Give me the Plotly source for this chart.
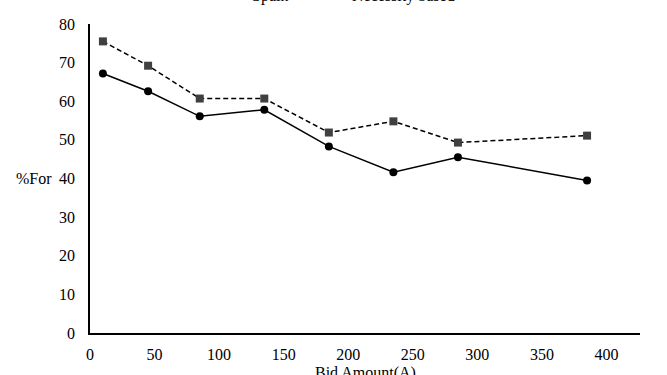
import plotly.graph_objects as go

bid_amount = [10, 45, 85, 135, 185, 235, 285, 385]
series_a_name = "Spain"
series_a = [67.2, 62.6, 56.1, 57.8, 48.3, 41.6, 45.5, 39.5]
series_b_name = "Necessity based"
series_b = [75.5, 69.2, 60.7, 60.7, 51.9, 54.8, 49.3, 51.1]
y_ticks = [0, 10, 20, 30, 40, 50, 60, 70, 80]
x_ticks = [0, 50, 100, 150, 200, 250, 300, 350, 400]

FONT = "Liberation Serif, Times New Roman, serif"
FS = 16

fig = go.Figure()
fig.add_trace(go.Scatter(
    x=bid_amount, y=series_b, name=series_b_name, mode="lines+markers",
    line=dict(color="black", width=1.5, dash="5px,3px"),
    marker=dict(symbol="square", size=8, color="#404040"),
))
fig.add_trace(go.Scatter(
    x=bid_amount, y=series_a, name=series_a_name, mode="lines+markers",
    line=dict(color="black", width=1.5),
    marker=dict(symbol="circle", size=8, color="black"),
))

fig.update_layout(
    width=667, height=375,
    margin=dict(l=90, r=27, t=24, b=42, autoexpand=False),
    paper_bgcolor="white", plot_bgcolor="white",
    showlegend=False,
    font=dict(family=FONT, size=FS, color="black"),
    xaxis=dict(range=[0, 426], tickvals=x_ticks, showgrid=False, zeroline=False,
               showline=True, linecolor="black", linewidth=1.5, ticks="outside",
               ticklen=6, tickcolor="rgba(0,0,0,0)",
               tickfont=dict(family=FONT, size=FS)),
    yaxis=dict(range=[0, 80], tickvals=y_ticks, showgrid=False, zeroline=False,
               showline=True, linecolor="black", linewidth=1.5, ticks="outside",
               ticklen=10, tickcolor="rgba(0,0,0,0)",
               tickfont=dict(family=FONT, size=FS)),
    annotations=[
        dict(text="%For", xref="paper", yref="y", x=0, y=40, xshift=-36,
             xanchor="right", yanchor="middle", showarrow=False,
             font=dict(family=FONT, size=FS)),
        dict(text="Bid Amount(A)", xref="paper", yref="paper", x=0.5, y=0,
             yshift=-40, xanchor="center", yanchor="middle", showarrow=False,
             font=dict(family=FONT, size=FS)),
        dict(text=series_a_name, xref="paper", yref="paper",
             x=(270 - 90) / 550, y=1, yshift=28, xanchor="center",
             yanchor="middle", showarrow=False, font=dict(family=FONT, size=FS)),
        dict(text=series_b_name, xref="paper", yref="paper",
             x=(403 - 90) / 550, y=1, yshift=28, xanchor="center",
             yanchor="middle", showarrow=False, font=dict(family=FONT, size=FS)),
    ],
)

fig.write_html("out.html", config={"displayModeBar": False},
               post_script="document.body.style.margin='0';")
